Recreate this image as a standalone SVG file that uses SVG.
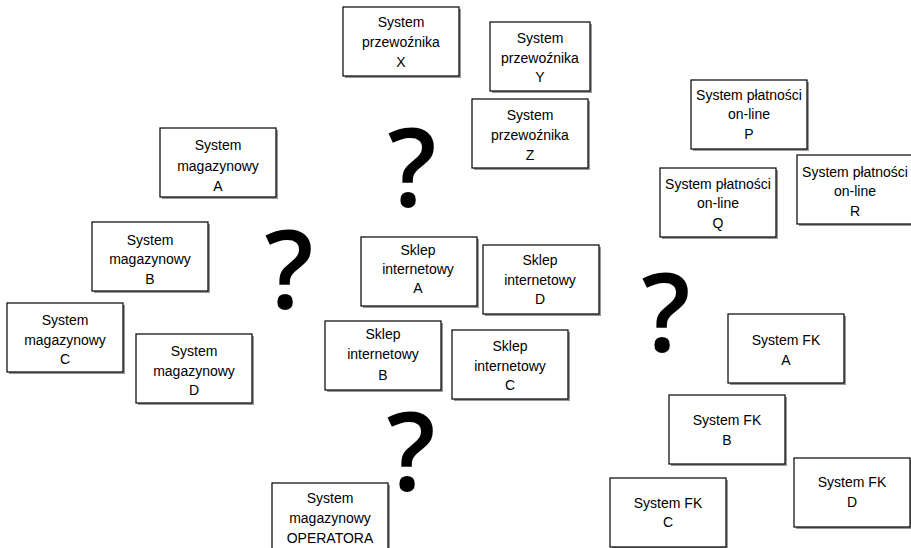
<svg xmlns="http://www.w3.org/2000/svg" width="911" height="548" viewBox="0 0 911 548">
  <style>
    .box { fill: #ffffff; stroke: #000000; stroke-width: 1.2; }
    .shadow { fill: #9a9a9a; }
    .lbl { font-family: "Liberation Sans", Arial, sans-serif; font-size: 14px; fill: #000000; text-anchor: middle; }
    .q { font-family: "Open Sans", "Liberation Sans", sans-serif; font-weight: 600; font-size: 108px; fill: #000000; text-anchor: middle; }
  </style>
  <defs>
    <!-- shared card: drop shadow + outlined box, 116 x 69 -->
    <g id="card">
      <rect class="shadow" x="2" y="2" width="116" height="69"/>
      <rect class="box" x="0" y="0" width="116" height="69"/>
    </g>
  </defs>
  <rect width="911" height="548" fill="#ffffff"/>

  <!-- carrier systems -->
  <g id="przewoznik-x">
    <use href="#card" x="343" y="7"/>
    <text class="lbl" x="401" y="27">System</text>
    <text class="lbl" x="401" y="47">przewoźnika</text>
    <text class="lbl" x="401" y="67">X</text>
  </g>
  <g id="przewoznik-y">
    <rect class="shadow" x="492" y="24" width="100" height="69"/>
    <rect class="box" x="490" y="22" width="100" height="69"/>
    <text class="lbl" x="540" y="43">System</text>
    <text class="lbl" x="540" y="63">przewoźnika</text>
    <text class="lbl" x="540" y="82">Y</text>
  </g>
  <g id="przewoznik-z">
    <use href="#card" x="472" y="99"/>
    <text class="lbl" x="530" y="120">System</text>
    <text class="lbl" x="530" y="140">przewoźnika</text>
    <text class="lbl" x="530" y="160">Z</text>
  </g>

  <!-- warehouse systems -->
  <g id="magazyn-a">
    <use href="#card" x="160" y="128"/>
    <text class="lbl" x="218" y="150">System</text>
    <text class="lbl" x="218" y="171">magazynowy</text>
    <text class="lbl" x="218" y="191">A</text>
  </g>
  <g id="magazyn-b">
    <use href="#card" x="92" y="222"/>
    <text class="lbl" x="150" y="245">System</text>
    <text class="lbl" x="150" y="264">magazynowy</text>
    <text class="lbl" x="150" y="284">B</text>
  </g>
  <g id="magazyn-c">
    <use href="#card" x="7" y="303"/>
    <text class="lbl" x="65" y="325">System</text>
    <text class="lbl" x="65" y="345">magazynowy</text>
    <text class="lbl" x="65" y="364">C</text>
  </g>
  <g id="magazyn-d">
    <use href="#card" x="136" y="334"/>
    <text class="lbl" x="194" y="356">System</text>
    <text class="lbl" x="194" y="376">magazynowy</text>
    <text class="lbl" x="194" y="395">D</text>
  </g>
  <g id="magazyn-operatora">
    <rect class="shadow" x="274" y="485" width="116" height="70"/>
    <rect class="box" x="272" y="483" width="116" height="70"/>
    <text class="lbl" x="330" y="503">System</text>
    <text class="lbl" x="330" y="523">magazynowy</text>
    <text class="lbl" x="330" y="543">OPERATORA</text>
  </g>

  <!-- online shops -->
  <g id="sklep-a">
    <use href="#card" x="361" y="237"/>
    <text class="lbl" x="418" y="255">Sklep</text>
    <text class="lbl" x="418" y="274">internetowy</text>
    <text class="lbl" x="418" y="293">A</text>
  </g>
  <g id="sklep-d">
    <use href="#card" x="483" y="245"/>
    <text class="lbl" x="540" y="265">Sklep</text>
    <text class="lbl" x="540" y="285">internetowy</text>
    <text class="lbl" x="540" y="304">D</text>
  </g>
  <g id="sklep-b">
    <use href="#card" x="325" y="321"/>
    <text class="lbl" x="383" y="339">Sklep</text>
    <text class="lbl" x="383" y="359">internetowy</text>
    <text class="lbl" x="383" y="380">B</text>
  </g>
  <g id="sklep-c">
    <use href="#card" x="452" y="330"/>
    <text class="lbl" x="510" y="351">Sklep</text>
    <text class="lbl" x="510" y="371">internetowy</text>
    <text class="lbl" x="510" y="390">C</text>
  </g>

  <!-- online payment systems -->
  <g id="platnosci-p">
    <use href="#card" x="691" y="80"/>
    <text class="lbl" x="749" y="100">System płatności</text>
    <text class="lbl" x="749" y="119">on-line</text>
    <text class="lbl" x="749" y="139">P</text>
  </g>
  <g id="platnosci-q">
    <use href="#card" x="660" y="168"/>
    <text class="lbl" x="718" y="189">System płatności</text>
    <text class="lbl" x="718" y="208">on-line</text>
    <text class="lbl" x="718" y="228">Q</text>
  </g>
  <g id="platnosci-r">
    <use href="#card" x="797" y="155"/>
    <text class="lbl" x="855" y="177">System płatności</text>
    <text class="lbl" x="855" y="196">on-line</text>
    <text class="lbl" x="855" y="216">R</text>
  </g>

  <!-- accounting systems -->
  <g id="fk-a">
    <use href="#card" x="728" y="314"/>
    <text class="lbl" x="786" y="345">System FK</text>
    <text class="lbl" x="786" y="365">A</text>
  </g>
  <g id="fk-b">
    <use href="#card" x="669" y="395"/>
    <text class="lbl" x="727" y="425">System FK</text>
    <text class="lbl" x="727" y="445">B</text>
  </g>
  <g id="fk-c">
    <use href="#card" x="610" y="478"/>
    <text class="lbl" x="668" y="508">System FK</text>
    <text class="lbl" x="668" y="527">C</text>
  </g>
  <g id="fk-d">
    <use href="#card" x="794" y="458"/>
    <text class="lbl" x="852" y="487">System FK</text>
    <text class="lbl" x="852" y="507">D</text>
  </g>

  <!-- open questions between the groups -->
  <g id="pytania">
    <text class="q" x="412" y="207">?</text>
    <text class="q" x="289" y="309">?</text>
    <text class="q" x="666" y="352">?</text>
    <text class="q" x="411" y="491">?</text>
  </g>
</svg>
